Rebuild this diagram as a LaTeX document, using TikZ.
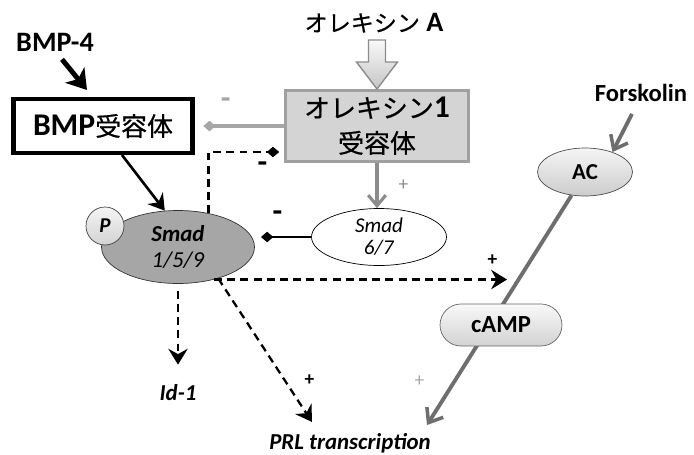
\documentclass[tikz,border=0pt]{standalone}
\usepackage{fontspec}
\setmainfont{Carlito}
\newfontfamily\jp[Scale=0.82,FakeBold=0.5]{Noto Sans CJK JP}
\usetikzlibrary{arrows.meta,calc,shapes.geometric,shapes.misc}
\definecolor{boxgray}{HTML}{D4D4D4}
\definecolor{edgegray}{HTML}{A0A0A0}
\definecolor{linegray}{HTML}{A6A6A6}
\definecolor{midgray}{HTML}{8C8C8C}
\definecolor{darkgray}{HTML}{6E6E6E}
\definecolor{smadgray}{HTML}{A6A6A6}
\tikzset{
  x=0.02cm, y=-0.02cm,
  big/.style={font=\fontsize{18}{20}\selectfont},
  lbl/.style={font=\fontsize{14}{16}\selectfont\bfseries},
  bmpbox/.style={big, draw, line width=2.3pt, minimum width=3.58cm, minimum height=1.08cm},
  orxbox/.style={big, draw=edgegray, fill=boxgray, line width=1.7pt, align=center,
    minimum width=3.68cm, minimum height=1.42cm, inner sep=1pt},
  smadbig/.style={ellipse, draw=black!80, fill=smadgray, minimum width=3.06cm, minimum height=1.46cm,
    align=center, inner sep=0pt, font=\fontsize{13}{15}\selectfont},
  smadsmall/.style={ellipse, draw, fill=white, minimum width=2.7cm, minimum height=1.14cm,
    align=center, inner sep=0pt, font=\fontsize{12}{12.5}\selectfont},
  bubble/.style={ellipse, draw=black!70, top color=gray!8, bottom color=gray!40,
    minimum width=1.9cm, minimum height=0.96cm, inner sep=0pt, font=\fontsize{13}{15}\selectfont},
  pill/.style={rounded rectangle, draw=black!60, top color=gray!5, bottom color=gray!35,
    minimum width=2.44cm, minimum height=0.84cm, inner sep=0pt, font=\fontsize{14}{16}\selectfont},
  pcirc/.style={circle, draw=black!75, top color=gray!8, bottom color=gray!35,
    minimum size=0.76cm, inner sep=0pt, font=\fontsize{12}{14}\selectfont},
  minus/.style={font=\fontsize{18}{18}\selectfont\bfseries},
  plus/.style={font=\fontsize{11}{11}\selectfont},
  act/.style={-{Stealth[length=9pt,width=11pt,inset=3pt]}},
  inh/.style={-{Diamond[length=7pt,width=6pt]}},
  dsh/.style={line width=1.3pt, dash pattern=on 4.5pt off 3pt},
  blk/.style={line width=1.5pt, act},
  thk/.style={line width=2.8pt, -{Stealth[length=11pt,width=14pt,inset=3pt]}},
  gact/.style={draw=midgray, line width=1.8pt, -{Straight Barb[length=6pt,width=10pt,line width=1.8pt]}},
  gline/.style={draw=darkgray, line width=2.2pt, -{Straight Barb[length=7pt,width=11pt,line width=2pt]}},
}
\begin{document}
\begin{tikzpicture}
\useasboundingbox (0,0) rectangle (694,454);
\node[lbl, font=\fontsize{16}{18}\selectfont\bfseries] (BMPfour) at (55,42) {BMP-4};
\node[bmpbox] (BMPR) at (103,126) {\textbf{BMP}{\jp 受容体}};
\node[font=\fontsize{16}{18}\selectfont] (OxA) at (374,23) {{\jp オレキシン} \textbf{A}};
\node[orxbox] (OxR) at (377,126) {{\jp オレキシン}\textbf{1}\\{\jp 受容体}};
\node[smadbig] (Smad) at (178,247) {\textbf{\textit{Smad}}\\\textit{1/5/9}};
\node[pcirc] (P) at (105,226) {\textbf{\textit{P}}};
\node[smadsmall] (SmadS) at (379,237) {\textit{Smad}\\\textit{6/7}};
\node[bubble] (AC) at (585,172) {\textbf{AC}};
\node[lbl] (Fsk) at (641,93) {Forskolin};
\node[font=\fontsize{13}{15}\selectfont] (Id) at (178,393) {\textbf{\textit{Id-1}}};
\node[font=\fontsize{13}{15}\selectfont] (PRL) at (350,443) {\textbf{\textit{PRL transcription}}};
\coordinate (tipA) at (312,422);
\coordinate (tipB) at (427,425);
\coordinate (tipC) at (507,281);

\draw[draw=midgray, line width=0.8pt, top color=gray!5, bottom color=gray!45]
  (OxR.north) -- ++(-20.5,-27) -- ++(12,0) -- ++(0,-22) -- ++(17,0) -- ++(0,22) -- ++(12,0) -- cycle;

\draw[thk] ($(BMPfour.south)+(7,2)$) -- ($(BMPR.north)+(-16,-7)$);
\draw[blk] ($(BMPR.south)+(19,0)$) -- (Smad.110);
\draw[inh, draw=linegray, line width=2.3pt, shorten >=5pt] (OxR.west) --
  node[minus, text=linegray, pos=0.65, yshift=13pt] {-} (BMPR.east);
\draw[dsh, inh, shorten >=2.5pt] (Smad.48) |- ($(OxR.west)+(0,26)$)
  node[minus, pos=0.86, yshift=-8.5pt] {-};
\draw[gact] (OxR.south) -- node[plus, text=midgray, xshift=15pt] {+} (OxR.south |- SmadS.north);
\draw[blk, inh, shorten >=3.5pt] (SmadS.west) --
  node[minus, pos=0.6, yshift=12pt] {-} (SmadS.west -| Smad.east);
\draw[dsh, act, shorten <=4pt, shorten >=8pt] (Smad.south) -- (Smad.south |- Id.north);
\draw[dsh, act] (Smad.-38) -- node[plus, pos=0.71, xshift=14pt] {\textbf{+}} (tipA);
\draw[dsh, act] (Smad.-42) -- node[plus, pos=0.95, yshift=11pt] {\textbf{+}} (Smad.-42 -| tipC);

\draw[gline] (AC.240) -- node[plus, text=linegray, pos=0.81, xshift=-20pt] {+} (tipB);
\node[pill] (cAMP) at (501,325) {\textbf{cAMP}};
\draw[gline] ($(Fsk.south)+(-9,6)$) -- (AC.36);
\end{tikzpicture}
\end{document}
